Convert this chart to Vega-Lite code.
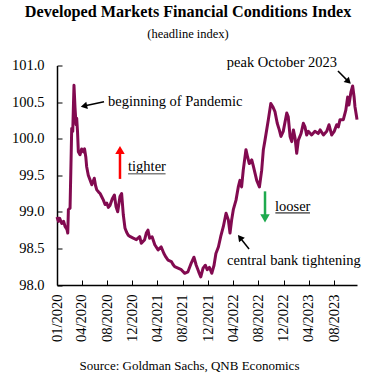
{
  "$schema": "https://vega.github.io/schema/vega-lite/v6.json",
  "width": 300,
  "height": 219.5,
  "autosize": {"type": "none"},
  "padding": {"left": 57, "top": 65.5, "right": 21, "bottom": 94},
  "background": "white",
  "config": {
    "font": "Liberation Serif",
    "view": {"stroke": null},
    "axis": {"grid": false, "labelOverlap": false, "labelSeparation": -40, "domainColor": "black", "domainWidth": 1.5, "tickColor": "black", "tickWidth": 1, "labelColor": "black", "labelFont": "Liberation Serif", "labelFontSize": 14.5}
  },
  "title": {
    "text": "Developed Markets Financial Conditions Index",
    "subtitle": "(headline index)",
    "font": "Liberation Serif",
    "subtitleFont": "Liberation Serif",
    "fontSize": 16.2,
    "fontWeight": "bold",
    "subtitleFontSize": 12.5,
    "color": "black",
    "subtitleColor": "black",
    "anchor": "middle",
    "frame": "group",
    "dx": -19,
    "offset": 15,
    "subtitlePadding": 7
  },
  "datasets": {
    "series": [
      {"date": "2020-01-01", "value": 98.93},
      {"date": "2020-01-08", "value": 98.87},
      {"date": "2020-01-14", "value": 98.91},
      {"date": "2020-01-24", "value": 98.84},
      {"date": "2020-02-02", "value": 98.87},
      {"date": "2020-02-09", "value": 98.8},
      {"date": "2020-02-18", "value": 98.76},
      {"date": "2020-02-22", "value": 98.71},
      {"date": "2020-02-25", "value": 99.03},
      {"date": "2020-03-04", "value": 99.05},
      {"date": "2020-03-09", "value": 99.73},
      {"date": "2020-03-12", "value": 100.14},
      {"date": "2020-03-17", "value": 100.1},
      {"date": "2020-03-20", "value": 100.42},
      {"date": "2020-03-23", "value": 100.73},
      {"date": "2020-03-28", "value": 100.42},
      {"date": "2020-04-02", "value": 100.19},
      {"date": "2020-04-05", "value": 100.28},
      {"date": "2020-04-09", "value": 100.1},
      {"date": "2020-04-13", "value": 99.82},
      {"date": "2020-04-21", "value": 99.78},
      {"date": "2020-04-29", "value": 99.86},
      {"date": "2020-05-07", "value": 99.82},
      {"date": "2020-05-13", "value": 99.86},
      {"date": "2020-05-19", "value": 99.75},
      {"date": "2020-05-23", "value": 99.62},
      {"date": "2020-05-31", "value": 99.5},
      {"date": "2020-06-08", "value": 99.44},
      {"date": "2020-06-17", "value": 99.37},
      {"date": "2020-06-29", "value": 99.46},
      {"date": "2020-07-05", "value": 99.36},
      {"date": "2020-07-11", "value": 99.3},
      {"date": "2020-07-20", "value": 99.27},
      {"date": "2020-07-27", "value": 99.25},
      {"date": "2020-08-05", "value": 99.2},
      {"date": "2020-08-12", "value": 99.16},
      {"date": "2020-08-20", "value": 99.1},
      {"date": "2020-08-28", "value": 99.12},
      {"date": "2020-09-05", "value": 99.06},
      {"date": "2020-09-13", "value": 99.09},
      {"date": "2020-09-24", "value": 99.18},
      {"date": "2020-10-04", "value": 99.23},
      {"date": "2020-10-12", "value": 99.07},
      {"date": "2020-10-20", "value": 99.0},
      {"date": "2020-10-31", "value": 99.21},
      {"date": "2020-11-08", "value": 99.25},
      {"date": "2020-11-16", "value": 98.96},
      {"date": "2020-11-24", "value": 98.78},
      {"date": "2020-12-02", "value": 98.72},
      {"date": "2020-12-10", "value": 98.68},
      {"date": "2020-12-20", "value": 98.66},
      {"date": "2021-01-03", "value": 98.64},
      {"date": "2021-01-18", "value": 98.62},
      {"date": "2021-02-03", "value": 98.66},
      {"date": "2021-02-11", "value": 98.57},
      {"date": "2021-02-27", "value": 98.62},
      {"date": "2021-03-07", "value": 98.71},
      {"date": "2021-03-15", "value": 98.75},
      {"date": "2021-03-23", "value": 98.64},
      {"date": "2021-04-04", "value": 98.66},
      {"date": "2021-04-17", "value": 98.55},
      {"date": "2021-05-03", "value": 98.48},
      {"date": "2021-05-18", "value": 98.52},
      {"date": "2021-05-31", "value": 98.43},
      {"date": "2021-06-10", "value": 98.38},
      {"date": "2021-06-20", "value": 98.34},
      {"date": "2021-07-06", "value": 98.32},
      {"date": "2021-07-14", "value": 98.28},
      {"date": "2021-07-22", "value": 98.25},
      {"date": "2021-08-07", "value": 98.23},
      {"date": "2021-08-23", "value": 98.21},
      {"date": "2021-09-08", "value": 98.16},
      {"date": "2021-09-24", "value": 98.18},
      {"date": "2021-10-10", "value": 98.3},
      {"date": "2021-10-23", "value": 98.38},
      {"date": "2021-11-03", "value": 98.27},
      {"date": "2021-11-15", "value": 98.18},
      {"date": "2021-11-25", "value": 98.11},
      {"date": "2021-12-06", "value": 98.23},
      {"date": "2021-12-17", "value": 98.27},
      {"date": "2021-12-26", "value": 98.21},
      {"date": "2022-01-06", "value": 98.24},
      {"date": "2022-01-17", "value": 98.16},
      {"date": "2022-01-28", "value": 98.27},
      {"date": "2022-02-06", "value": 98.43},
      {"date": "2022-02-18", "value": 98.52},
      {"date": "2022-03-01", "value": 98.66},
      {"date": "2022-03-14", "value": 98.8},
      {"date": "2022-03-27", "value": 98.98},
      {"date": "2022-04-07", "value": 98.89},
      {"date": "2022-04-15", "value": 98.71},
      {"date": "2022-04-23", "value": 98.89},
      {"date": "2022-05-01", "value": 99.03},
      {"date": "2022-05-14", "value": 99.16},
      {"date": "2022-05-25", "value": 99.34},
      {"date": "2022-06-02", "value": 99.43},
      {"date": "2022-06-10", "value": 99.34},
      {"date": "2022-06-18", "value": 99.57},
      {"date": "2022-07-01", "value": 99.85},
      {"date": "2022-07-09", "value": 99.75},
      {"date": "2022-07-17", "value": 99.66},
      {"date": "2022-07-29", "value": 99.71},
      {"date": "2022-08-06", "value": 99.62},
      {"date": "2022-08-22", "value": 99.43},
      {"date": "2022-09-04", "value": 99.34},
      {"date": "2022-09-15", "value": 99.57},
      {"date": "2022-09-23", "value": 99.85},
      {"date": "2022-10-01", "value": 99.98},
      {"date": "2022-10-17", "value": 100.26},
      {"date": "2022-10-29", "value": 100.48},
      {"date": "2022-11-07", "value": 100.44},
      {"date": "2022-11-18", "value": 100.37},
      {"date": "2022-11-29", "value": 100.21},
      {"date": "2022-12-09", "value": 100.12},
      {"date": "2022-12-17", "value": 100.03},
      {"date": "2022-12-28", "value": 100.1},
      {"date": "2023-01-14", "value": 100.35},
      {"date": "2023-01-21", "value": 100.3},
      {"date": "2023-01-30", "value": 100.03},
      {"date": "2023-02-07", "value": 99.96},
      {"date": "2023-02-15", "value": 100.12},
      {"date": "2023-02-23", "value": 100.01},
      {"date": "2023-03-03", "value": 99.8},
      {"date": "2023-03-11", "value": 99.98},
      {"date": "2023-03-24", "value": 100.07},
      {"date": "2023-04-04", "value": 100.21},
      {"date": "2023-04-12", "value": 100.16},
      {"date": "2023-04-20", "value": 100.05},
      {"date": "2023-04-28", "value": 100.1},
      {"date": "2023-05-14", "value": 100.05},
      {"date": "2023-05-30", "value": 100.1},
      {"date": "2023-06-15", "value": 100.07},
      {"date": "2023-06-24", "value": 100.12},
      {"date": "2023-07-10", "value": 100.05},
      {"date": "2023-07-26", "value": 100.1},
      {"date": "2023-08-06", "value": 100.19},
      {"date": "2023-08-19", "value": 100.05},
      {"date": "2023-08-31", "value": 100.1},
      {"date": "2023-09-12", "value": 100.19},
      {"date": "2023-09-20", "value": 100.16},
      {"date": "2023-09-28", "value": 100.26},
      {"date": "2023-10-14", "value": 100.26},
      {"date": "2023-10-26", "value": 100.39},
      {"date": "2023-11-04", "value": 100.57},
      {"date": "2023-11-10", "value": 100.46},
      {"date": "2023-11-20", "value": 100.64},
      {"date": "2023-11-28", "value": 100.72},
      {"date": "2023-12-05", "value": 100.57},
      {"date": "2023-12-09", "value": 100.44},
      {"date": "2023-12-17", "value": 100.3},
      {"date": "2023-12-19", "value": 100.26}
    ]
  },
  "encoding": {
    "x": {
      "field": "date", "type": "temporal",
      "scale": {"type": "utc", "domain": [{"year": 2020, "month": 1, "date": 1, "utc": true}, {"year": 2023, "month": 12, "date": 19, "utc": true}]},
      "axis": {
        "values": [
          {"year": 2020, "month": 1, "date": 1, "utc": true},
          {"year": 2020, "month": 4, "date": 30, "utc": true},
          {"year": 2020, "month": 8, "date": 30, "utc": true},
          {"year": 2020, "month": 12, "date": 30, "utc": true},
          {"year": 2021, "month": 4, "date": 30, "utc": true},
          {"year": 2021, "month": 8, "date": 30, "utc": true},
          {"year": 2021, "month": 12, "date": 30, "utc": true},
          {"year": 2022, "month": 4, "date": 30, "utc": true},
          {"year": 2022, "month": 8, "date": 30, "utc": true},
          {"year": 2022, "month": 12, "date": 30, "utc": true},
          {"year": 2023, "month": 4, "date": 30, "utc": true},
          {"year": 2023, "month": 8, "date": 30, "utc": true}
        ],
        "format": "%m/%Y",
        "labelAngle": 270,
        "labelOverlap": false,
        "tickSize": -5,
        "labelPadding": 14,
        "title": "Source: Goldman Sachs, QNB Economics",
        "titleFont": "Liberation Serif",
        "titleFontSize": 13,
        "titleFontWeight": "normal",
        "titleColor": "black",
        "titleX": 132,
        "titleY": 80,
        "titleAlign": "center",
        "titleBaseline": "middle"
      }
    },
    "y": {
      "field": "value", "type": "quantitative",
      "scale": {"domain": [98, 101], "zero": false, "nice": false},
      "axis": {
        "values": [98, 98.5, 99, 99.5, 100, 100.5, 101],
        "format": ".1f",
        "labelOverlap": false,
        "tickSize": -5,
        "labelPadding": 18,
        "title": null
      }
    }
  },
  "layer": [
    {
      "data": {"name": "series"},
      "mark": {"type": "line", "color": "#820A50", "strokeWidth": 3, "strokeJoin": "round"}
    },
    {
      "data": {"values": [
        {"date": "2020-09-03", "value": 100.5, "t": "beginning  of Pandemic"},
        {"date": "2020-12-09", "value": 99.61, "t": "tighter"},
        {"date": "2022-11-18", "value": 99.07, "t": "looser"},
        {"date": "2022-04-01", "value": 98.33, "t": "central bank tightening"}
      ]},
      "mark": {"type": "text", "align": "left", "baseline": "middle", "font": "Liberation Serif", "fontSize": 14.5, "color": "black"},
      "encoding": {"text": {"field": "t"}}
    },
    {
      "data": {"values": [{"date": "2023-09-14", "value": 101.034, "t": "peak October 2023"}]},
      "mark": {"type": "text", "align": "right", "baseline": "middle", "font": "Liberation Serif", "fontSize": 14.5, "color": "black"},
      "encoding": {"text": {"field": "t"}}
    },
    {
      "data": {"values": [
        {"date": "2020-08-15", "value": 100.505, "date2": "2020-05-10", "value2": 100.446},
        {"date": "2022-07-16", "value": 98.492, "date2": "2022-06-02", "value2": 98.649},
        {"date": "2023-09-18", "value": 100.925, "date2": "2023-11-08", "value2": 100.78}
      ]},
      "mark": {"type": "rule", "color": "black", "strokeWidth": 1.5},
      "encoding": {"x2": {"field": "date2"}, "y2": {"field": "value2"}}
    },
    {
      "data": {"values": [{"date": "2020-05-10", "value": 100.446}]},
      "mark": {"type": "point", "shape": "triangle-up", "filled": true, "color": "black", "size": 55, "angle": 257.5, "opacity": 1}
    },
    {
      "data": {"values": [{"date": "2022-06-02", "value": 98.649}]},
      "mark": {"type": "point", "shape": "triangle-up", "filled": true, "color": "black", "size": 55, "angle": 321, "opacity": 1}
    },
    {
      "data": {"values": [{"date": "2023-11-08", "value": 100.78}]},
      "mark": {"type": "point", "shape": "triangle-up", "filled": true, "color": "black", "size": 55, "angle": 135, "opacity": 1}
    },
    {
      "data": {"values": [{"date": "2020-10-31", "value": 99.45, "value2": 99.82}]},
      "mark": {"type": "rule", "color": "#FF0000", "strokeWidth": 2.5},
      "encoding": {"y2": {"field": "value2"}}
    },
    {
      "data": {"values": [{"date": "2020-10-31", "value": 99.845}]},
      "mark": {"type": "point", "shape": "triangle-up", "filled": true, "color": "#FF0000", "size": 90, "opacity": 1}
    },
    {
      "data": {"values": [{"date": "2022-10-01", "value": 99.28, "value2": 98.93}]},
      "mark": {"type": "rule", "color": "#1EAA4E", "strokeWidth": 2.5},
      "encoding": {"y2": {"field": "value2"}}
    },
    {
      "data": {"values": [{"date": "2022-10-01", "value": 98.91}]},
      "mark": {"type": "point", "shape": "triangle-down", "filled": true, "color": "#1EAA4E", "size": 90, "opacity": 1}
    },
    {
      "data": {"values": [{"date": "2020-12-09", "date2": "2021-06-08", "value": 99.52}]},
      "mark": {"type": "rule", "color": "#808080", "strokeWidth": 1.5},
      "encoding": {"x2": {"field": "date2"}}
    },
    {
      "data": {"values": [{"date": "2022-11-20", "date2": "2023-05-06", "value": 98.985}]},
      "mark": {"type": "rule", "color": "black", "strokeWidth": 1},
      "encoding": {"x2": {"field": "date2"}}
    }
  ]
}
